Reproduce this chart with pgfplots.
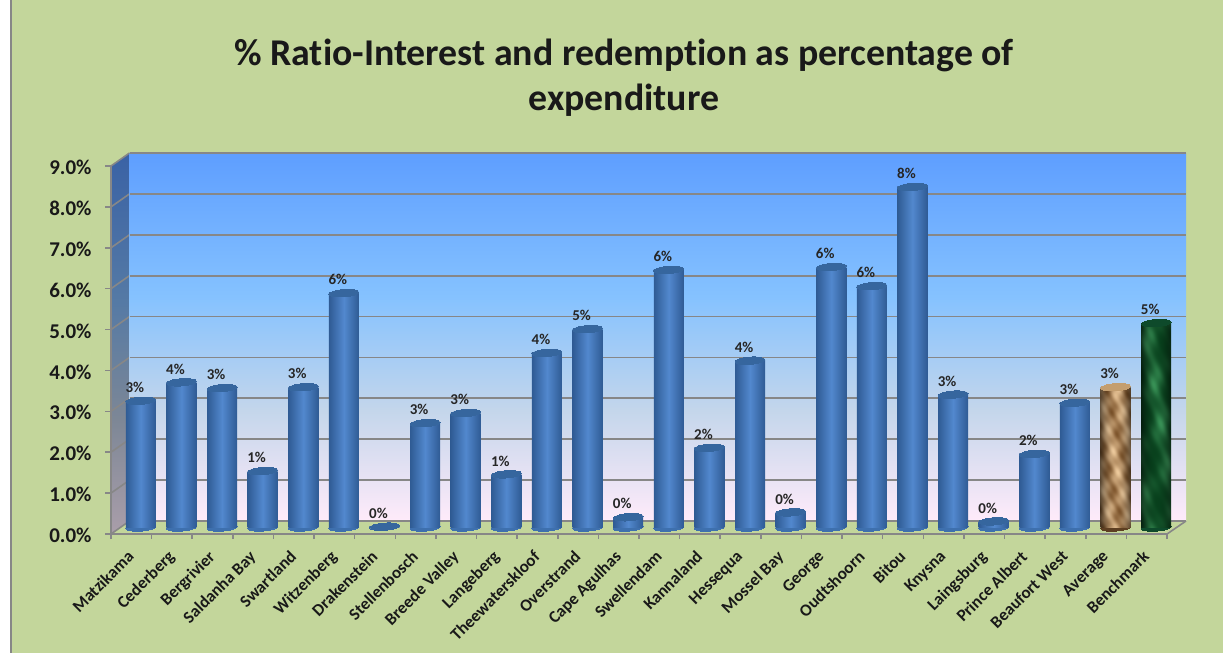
\documentclass[border=0pt]{standalone}
\usepackage{fontspec}
\setmainfont[Ligatures=NoCommon]{Carlito}
\usepackage{pgfplots}
\usepackage{pgfplotstable}
\pgfplotsset{compat=1.18}

\definecolor{panel}{HTML}{C3D69B}
\definecolor{edgegray}{HTML}{878787}
\definecolor{bardark}{HTML}{2F5B94}
\definecolor{barmid}{HTML}{5288CE}
\definecolor{bartop}{HTML}{36669E}
\definecolor{barbase}{HTML}{3E70AE}
\definecolor{tan}{HTML}{C49E6E}
\definecolor{tandark}{HTML}{5E3F22}
\definecolor{marble}{HTML}{0E4A2B}

\definecolor{wallA}{HTML}{FFEBFA}
\definecolor{wallB}{HTML}{C4D6EB}
\definecolor{wallC}{HTML}{85C2FF}
\definecolor{wallD}{HTML}{5E9EFF}
\definecolor{sideA}{HTML}{AA9EAA}
\definecolor{sideB}{HTML}{7D8796}
\definecolor{sideC}{HTML}{557AA5}
\definecolor{sideD}{HTML}{3A62A5}

% back wall and side wall gradients (25bp..75bp covers the path)
\pgfdeclareverticalshading{daybreak}{100bp}{color(0bp)=(wallA);color(25bp)=(wallA);
  color(40bp)=(wallB);color(55.5bp)=(wallC);color(75bp)=(wallD);color(100bp)=(wallD)}
\pgfdeclareverticalshading{sidewall}{100bp}{color(0bp)=(sideA);color(25bp)=(sideA);
  color(40bp)=(sideB);color(55.5bp)=(sideC);color(75bp)=(sideD);color(100bp)=(sideD)}

% marble and paper textures, darker towards the bar edges
\pgfdeclarefunctionalshading{greenmarble}{\pgfpoint{0bp}{0bp}}{\pgfpoint{100bp}{100bp}}{}{
  2 copy 8 mul exch 7 mul add sin 3 1 roll
  2 copy 29 mul exch -5 mul add sin 0.6 mul 4 1 roll
  2 copy 61 mul exch 17 mul add sin 0.3 mul
  exch pop 4 1 roll 4 1 roll add add
  3.8 div 0.5 add dup mul
  exch 50 sub 25 div dup mul 0.55 mul 1 exch sub
  exch
  2 copy 0.20 mul 0.03 add mul 3 1 roll
  2 copy 0.34 mul 0.25 add mul 3 1 roll
  0.24 mul 0.11 add mul
}
\pgfdeclarefunctionalshading{brownpaper}{\pgfpoint{0bp}{0bp}}{\pgfpoint{100bp}{100bp}}{}{
  2 copy 13 mul exch 11 mul add sin 3 1 roll
  2 copy 37 mul exch -9 mul add sin 0.6 mul 4 1 roll
  2 copy 71 mul exch 23 mul add sin 0.3 mul
  exch pop 4 1 roll 4 1 roll add add
  3.8 div 0.5 add
  exch 50 sub 25 div dup mul 0.5 mul 1 exch sub
  exch
  2 copy 0.46 mul 0.48 add mul 3 1 roll
  2 copy 0.48 mul 0.32 add mul 3 1 roll
  0.46 mul 0.16 add mul
}

\pgfplotstableread{
x    v
0.5  3.10
1.5  3.55
2.5  3.41
3.5  1.38
4.5  3.43
5.5  5.73
6.5  0.02
7.5  2.55
8.5  2.80
9.5  1.30
10.5 4.27
11.5 4.85
12.5 0.25
13.5 6.30
14.5 1.95
15.5 4.08
16.5 0.37
17.5 6.37
18.5 5.90
19.5 8.33
20.5 3.25
21.5 0.15
22.5 1.80
23.5 3.05
}\towns
\pgfplotstableread{
x    v
24.5 3.43
}\average
\pgfplotstableread{
x    v
25.5 5.00
}\benchmark
\pgfplotstableread{
x    v
0.5  0
1.5  0
2.5  0
3.5  0
4.5  0
5.5  0
7.5  0
8.5  0
9.5  0
10.5 0
11.5 0
12.5 0
13.5 0
14.5 0
15.5 0
16.5 0
17.5 0
18.5 0
19.5 0
20.5 0
21.5 0
22.5 0
23.5 0
}\townbase

\pgfplotsset{
  common/.style={
    scale only axis, width=1056pt, height=368pt,
    xmin=0, xmax=26, ymin=0, ymax=9, clip=false,
  },
  barlabels/.style={
    point meta=y,
    nodes near coords={\pgfmathprintnumber[fixed,precision=0,assume math mode=true]{\pgfplotspointmeta}\%},
    nodes near coords style={font=\bfseries\fontsize{15}{15}\selectfont, text=black!85,
      anchor=south, xshift=-6pt, yshift=6pt, inner sep=2pt},
  },
  cap/.style={only marks, mark=*, mark size=15pt,
    mark options={rotate=4, yscale=0.24, draw=#1, fill=#1, line width=0pt}},
}

\begin{document}
\begin{tikzpicture}[x=1pt,y=1pt]
\useasboundingbox (0,0) rectangle (1223,653);
\fill[panel] (0,0) rectangle (1223,653);
\fill[white] (0,0) rectangle (10,653);
\fill[edgegray] (10,0) rectangle (12,653);

\node[font=\bfseries\fontsize{37.8}{45}\selectfont, align=center, text=black!90] at (624,575)
  {\% Ratio-Interest and redemption as percentage of\\expenditure};

% side wall and floor edges
\shade[shading=sidewall] (111,119) -- (129.5,132) -- (129.5,500) -- (111,487) -- cycle;
\foreach \v in {0,...,9}
  \draw[edgegray, line width=1.6pt] (111,119+\v*40.889) -- (129.5,132+\v*40.889);
\draw[edgegray, line width=1.6pt] (1167,119) -- (1186,132);

% back wall with the grid
\begin{axis}[common, at={(129.5pt,132pt)}, width=1056.5pt,
  axis background/.style={shade, shading=daybreak},
  axis line style={draw=none}, xtick=\empty, ytick={0,...,9}, yticklabels={},
  major tick length=0pt,
  ymajorgrids, grid style={edgegray, line width=1.8pt}]
\end{axis}

% front plane: ticks and labels
\begin{axis}[common, at={(111pt,119pt)},
  axis x line*=bottom, axis y line*=left,
  axis line style={edgegray, line width=1.8pt, -},
  ytick={0,...,9}, major tick length=6pt, tick align=outside,
  ytick style={edgegray, line width=1.5pt},
  yticklabel={\pgfmathprintnumber[fixed,fixed zerofill,precision=1,assume math mode=true]{\tick}\%},
  yticklabel style={font=\bfseries\fontsize{21}{21}\selectfont, text=black!90, xshift=-10pt, yshift=-1.5pt},
  xtick={0.5,1.5,...,25.5},
  minor xtick={0,1,...,26}, minor tick length=5pt,
  every major x tick/.append style={draw=none},
  every minor x tick/.append style={edgegray, line width=1.5pt},
  xticklabels={Matzikama,Cederberg,Bergrivier,Saldanha Bay,Swartland,Witzenberg,Drakenstein,Stellenbosch,Breede Valley,Langeberg,Theewaterskloof,Overstrand,Cape Agulhas,Swellendam,Kannaland,Hessequa,Mossel Bay,George,Oudtshoorn,Bitou,Knysna,Laingsburg,Prince Albert,Beaufort West,Average,Benchmark},
  xticklabel style={font=\bfseries\fontsize{17}{17}\selectfont, text=black!90,
    rotate=45, anchor=north east, inner sep=0pt, xshift=-10pt, yshift=-3pt}]
\end{axis}

% the cylinders stand half way into the depth; bases go first, in an axis of their own
\begin{axis}[common, at={(120.5pt,125.5pt)}, hide axis]
\addplot[cap=barbase] table [x=x,y=v] {\townbase};
\addplot[cap=tandark] coordinates {(24.5,0)};
\addplot[cap=marble] coordinates {(25.5,0)};
\end{axis}

\begin{axis}[common, at={(120.5pt,125.5pt)}, hide axis]
% one plot per bar, so that each cylinder gets its own left-right shading
\pgfplotsinvokeforeach{0,...,23}{
  \addplot[ybar, bar width=30pt, bar shift=0pt, draw=none,
    left color=bardark, right color=bardark, middle color=barmid, barlabels,
    skip coords between index={0}{#1},
    skip coords between index={\numexpr#1+1\relax}{24}]
    table [x=x,y=v] {\towns};
}
\addplot[cap=bartop] table [x=x,y=v] {\towns};

\addplot[ybar, bar width=30pt, bar shift=0pt, draw=none, shade, shading=brownpaper, barlabels]
  table [x=x,y=v] {\average};
\addplot[cap=tan] table [x=x,y=v] {\average};

\addplot[ybar, bar width=30pt, bar shift=0pt, draw=none, shade, shading=greenmarble, barlabels]
  table [x=x,y=v] {\benchmark};
\addplot[cap=marble] table [x=x,y=v] {\benchmark};
\end{axis}
\end{tikzpicture}
\end{document}
